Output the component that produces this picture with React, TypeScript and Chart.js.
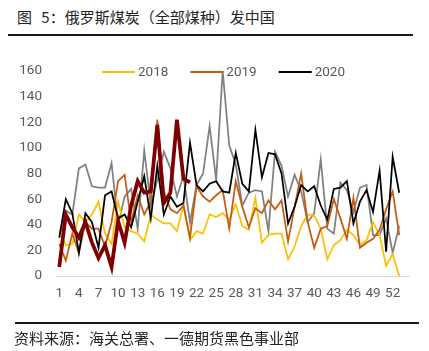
import React, { useEffect, useRef } from "react";
import { Chart, registerables } from "chart.js";

Chart.register(...registerables);

// Week categories (54 slots on the axis, data up to week 53)
const weeks = [
  "1", "2", "3", "4", "5", "6", "7", "8", "9", "10",
  "11", "12", "13", "14", "15", "16", "17", "18", "19", "20",
  "21", "22", "23", "24", "25", "26", "27", "28", "29", "30",
  "31", "32", "33", "34", "35", "36", "37", "38", "39", "40",
  "41", "42", "43", "44", "45", "46", "47", "48", "49", "50",
  "51", "52", "53", "54",
];
const xTickLabels = ["1", "4", "7", "10", "13", "16", "19", "22", "25", "28", "31", "34", "37", "40", "43", "46", "49", "52"];
const yTicks = [0, 20, 40, 60, 80, 100, 120, 140, 160];

// Series (万吨)
const s2017 = [30, 51, 48, 84, 87, 70, 69, 69, 88, 40, 62, 68, 37, 98, 55, 75, 97, 84, 62, 78, 42, 71, 80, 117, 75, 160, 102, 87, 55, 65, 67, 66, 35, 97, 86, 62, 79, 66, 42, 49, 91, 37, 33, 73, 67, 50, 69, 71, 32, 32, 45, 18, 39];
const s2018 = [36, 24, 25, 48, 42, 48, 58, 33, 25, 58, 38, 35, 33, 27, 48, 44, 41, 41, 35, 55, 28, 35, 33, 48, 46, 49, 44, 56, 39, 36, 61, 26, 32, 33, 33, 13, 23, 39, 48, 47, 37, 13, 24, 28, 36, 32, 24, 28, 42, 32, 8, 17, 0];
const s2019 = [25, 12, 33, 18, 42, 37, 37, 23, 42, 74, 79, 42, 63, 48, 58, 122, 66, 52, 49, 55, 30, 70, 62, 58, 63, 67, 37, 74, 54, 38, 53, 49, 59, 52, 59, 27, 54, 80, 42, 22, 37, 39, 60, 45, 29, 61, 22, 26, 29, 36, 52, 66, 32];
const s2020 = [30, 60, 49, 18, 49, 42, 22, 63, 66, 45, 48, 38, 58, 78, 45, 86, 48, 62, 54, 57, 104, 71, 66, 72, 74, 66, 65, 96, 72, 66, 114, 77, 96, 95, 80, 41, 54, 71, 66, 70, 55, 44, 68, 69, 74, 41, 58, 67, 50, 82, 19, 93, 65];
const s2021 = [7, 48, 38, 30, 42, 26, 14, 24, 7, 43, 26, 55, 74, 65, 66, 118, 57, 65, 122, 76, 73];

const legendLabels = ["2018", "2019", "2020"];

const TICK_FONT = { family: "Roboto, 'Noto Sans', sans-serif", size: 13.5 };
const TICK_COLOR = "#595959";

const customLegend = {
  id: "customLegend",
  afterDraw(chart: any) {
    const ctx = chart.ctx;
    ctx.save();
    ctx.font = `${TICK_FONT.size}px ${TICK_FONT.family}`;
    ctx.textBaseline = "middle";
    ctx.textAlign = "left";
    let x = 102;
    const y = 72;
    legendLabels.forEach((lab) => {
      const ds = chart.data.datasets.find((d: any) => d.label === lab);
      if (!ds) return;
      ctx.strokeStyle = ds.borderColor;
      ctx.lineWidth = 2;
      ctx.beginPath();
      ctx.moveTo(x, y);
      ctx.lineTo(x + 33, y);
      ctx.stroke();
      ctx.fillStyle = TICK_COLOR;
      ctx.fillText(lab, x + 36, y + 0.5);
      const w = ctx.measureText(lab).width;
      x += 33 + 3 + w + 22;
    });
    ctx.restore();
  },
};

export default function App() {
  const ref = useRef<HTMLCanvasElement | null>(null);

  useEffect(() => {
    if (!ref.current) return;
    const line = (label: string, data: number[], color: string, width: number) => ({
      label,
      data,
      borderColor: color,
      backgroundColor: color,
      borderWidth: width,
      pointRadius: 0,
      pointHoverRadius: 0,
      tension: 0,
      fill: false,
    });
    const chart = new Chart(ref.current, {
      type: "line",
      data: {
        labels: weeks,
        datasets: [
          line("2021", s2021, "#800000", 3.75),
          line("2020", s2020, "#000000", 1.75),
          line("2019", s2019, "#C55A11", 1.75),
          line("2018", s2018, "#FFC000", 1.75),
          line("2017", s2017, "#808080", 1.75),
        ],
      },
      options: {
        animation: false,
        responsive: false,
        maintainAspectRatio: false,
        devicePixelRatio: 1,
        layout: { padding: { left: 0, right: 20, top: 71, bottom: 45 } },
        plugins: {
          legend: { display: false },
          tooltip: { enabled: false },
          title: { display: false },
        },
        scales: {
          x: {
            type: "category",
            offset: true,
            grid: { display: false, drawTicks: false },
            border: { display: true, color: "#D9D9D9", width: 1 },
            ticks: {
              autoSkip: false,
              maxRotation: 0,
              minRotation: 0,
              padding: 10,
              color: TICK_COLOR,
              font: TICK_FONT,
              callback: function (this: any, value: any) {
                const lab = this.getLabelForValue(value);
                return xTickLabels.includes(lab) ? lab : "";
              },
            },
            afterFit: (scale: any) => {
              scale.height = 30;
            },
          },
          y: {
            min: 0,
            max: 160,
            grid: { display: false, drawTicks: false },
            border: { display: false },
            afterBuildTicks: (scale: any) => {
              scale.ticks = yTicks.map((v) => ({ value: v }));
            },
            ticks: {
              padding: 14,
              color: TICK_COLOR,
              font: TICK_FONT,
            },
            afterFit: (scale: any) => {
              scale.width = 56;
            },
          },
        },
      },
      plugins: [customLegend],
    });
    return () => chart.destroy();
  }, []);

  const cjk = "'Noto Sans CJK SC', 'Noto Sans', sans-serif";
  return (
    <div style={{ position: "fixed", left: 0, top: 0, width: 429, height: 351, background: "#fff", overflow: "hidden" }}>
      <div
        style={{
          position: "absolute",
          left: 17,
          top: 8,
          fontFamily: cjk,
          fontSize: 15,
          lineHeight: "17px",
          color: "#222",
          whiteSpace: "pre",
          wordSpacing: 6,
        }}
      >
        图 5：俄罗斯煤炭（全部煤种）发中国
      </div>
      <div style={{ position: "absolute", left: 8, top: 34, width: 405, height: 2, background: "#1a1a1a" }} />
      <canvas ref={ref} width={429} height={351} style={{ position: "absolute", left: 0, top: 0, width: 429, height: 351 }} />
      <div style={{ position: "absolute", left: 15, top: 322, width: 404, height: 2, background: "#1a1a1a" }} />
      <div
        style={{
          position: "absolute",
          left: 14,
          top: 329,
          fontFamily: cjk,
          fontSize: 15,
          lineHeight: "17px",
          color: "#222",
          whiteSpace: "nowrap",
        }}
      >
        资料来源：海关总署、一德期货黑色事业部
      </div>
    </div>
  );
}
